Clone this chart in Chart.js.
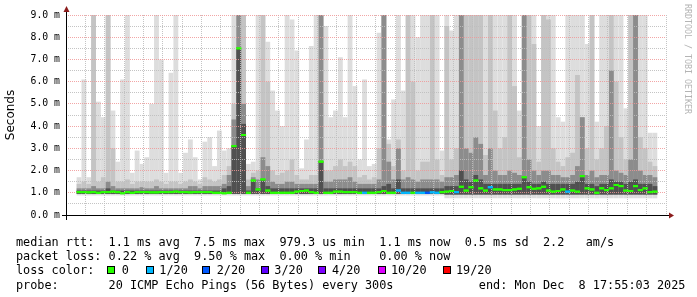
<!DOCTYPE html>
<html>
<head>
<meta charset="utf-8">
<script src="https://cdn.jsdelivr.net/npm/chart.js@4.4.1/dist/chart.umd.min.js"></script>
<style>
    html, body { margin: 0; padding: 0; background: #fff; }
    #wrap { position: relative; width: 697px; height: 297px; overflow: hidden; }
    #chart { position: absolute; left: 0; top: 0; }
    .t { position: absolute; font-family: "DejaVu Sans Mono", monospace; font-size: 11.83px; line-height: 14px; color: #000; white-space: pre; }
    .sw { position: absolute; top: 266px; width: 6px; height: 6px; border: 1px solid #000; }
    #mark { position: absolute; left: 683px; top: 4px; writing-mode: vertical-rl; font-family: "DejaVu Sans Mono", monospace; font-size: 8.3px; line-height: 10px; color: #b4b4b4; white-space: pre; }
</style>
</head>
<body>
<div id="wrap">
    <canvas id="chart" width="697" height="297"></canvas>
    <div id="mark">RRDTOOL / TOBI OETIKER</div>

    <div class="t" style="left:16px;top:234.5px">median rtt:  1.1 ms avg  7.5 ms max  979.3 us min  1.1 ms now  0.5 ms sd  2.2   am/s</div>
    <div class="t" style="left:16px;top:248.8px">packet loss: 0.22 % avg  9.50 % max  0.00 % min    0.00 % now</div>

    <div class="t" style="left:16px;top:263px">loss color:</div>
    <div class="sw" style="left:107px;background:#26ff00"></div>
    <div class="t" style="left:121.7px;top:263px">0</div>
    <div class="sw" style="left:146px;background:#00b8ff"></div>
    <div class="t" style="left:159.3px;top:263px">1/20</div>
    <div class="sw" style="left:202px;background:#0059ff"></div>
    <div class="t" style="left:216.7px;top:263px">2/20</div>
    <div class="sw" style="left:261px;background:#5e00ff"></div>
    <div class="t" style="left:274.3px;top:263px">3/20</div>
    <div class="sw" style="left:318px;background:#7e00ff"></div>
    <div class="t" style="left:332px;top:263px">4/20</div>
    <div class="sw" style="left:378px;background:#dd00ff"></div>
    <div class="t" style="left:391px;top:263px">10/20</div>
    <div class="sw" style="left:443px;background:#ff0000"></div>
    <div class="t" style="left:456px;top:263px">19/20</div>

    <div class="t" style="left:16px;top:277.6px">probe:       20 ICMP Echo Pings (56 Bytes) every 300s            end: Mon Dec  8 17:55:03 2025</div>
</div>
<script>
// x axis: hours after Sun 12:00, one bucket per 15 minutes
const timeLabels = ["Sun 12:00", "Sun 18:00", "Mon 00:00", "Mon 06:00", "Mon 12:00"];
const stepHours = 0.25;

// smoke: tops of each grey layer (ms)
const smokeMax = [
    1.7, 6.1, 1.7, 9, 5.1, 4.4, 9, 4.7, 2.4, 6.1,
    9, 1.9, 2.9, 2.3, 2.6, 5.0, 9, 7.0, 1.9, 6.4,
    9, 1.9, 2.8, 3.4, 2.6, 1.6, 3.3, 3.5, 2.2, 3.8,
    2.9, 3.0, 9, 9, 9, 2.3, 2.4, 9, 9, 7.8,
    5.6, 4.7, 4.0, 9, 8.8, 7.4, 2.1, 3.4, 7.6, 9,
    9, 8.5, 4.4, 4.7, 7.1, 4.4, 9, 5.8, 2.5, 6.1,
    2.2, 2.3, 8.2, 9, 3.4, 5.2, 9, 5.6, 9, 9,
    8.0, 9, 9, 9, 9, 2.9, 9, 8.3, 9, 9,
    9, 9, 9, 9, 9, 9, 9, 9, 9, 9,
    9, 4.7, 9, 9, 9, 4.0, 9, 9, 9, 4.4,
    4.2, 9, 9, 9, 9, 7.7, 9, 4.2, 9, 9,
    9, 9, 9, 4.8, 9, 9, 9, 9, 3.7, 3.7
];
const smokeMid = [
    1.4, 1.5, 1.4, 9, 1.5, 1.7, 9, 3.0, 1.5, 1.5,
    1.6, 1.4, 1.5, 1.5, 1.5, 1.5, 1.6, 1.5, 1.4, 1.5,
    1.5, 1.4, 1.5, 1.6, 1.5, 1.4, 1.7, 1.6, 1.5, 1.6,
    1.8, 2.2, 5.0, 9, 9, 1.6, 1.9, 2.0, 9, 6.0,
    2.0, 1.8, 1.9, 2.0, 2.5, 1.8, 1.6, 1.6, 1.8, 1.8,
    9, 2.0, 2.0, 2.2, 2.5, 2.2, 2.4, 2.2, 1.7, 1.8,
    1.6, 1.7, 3.0, 9, 3.2, 2.2, 3.4, 2.0, 9, 6.0,
    2.0, 2.4, 2.4, 9, 2.5, 1.8, 8.5, 2.5, 3.0, 9,
    9, 9, 9, 9, 2.7, 9, 4.7, 3.0, 3.5, 9,
    5.8, 2.6, 9, 9, 7.7, 2.4, 9, 8.8, 3.0, 2.4,
    2.2, 2.6, 2.8, 6.3, 4.4, 3.0, 9, 2.5, 3.0, 4.0,
    9, 6.0, 3.5, 2.5, 9, 9, 3.5, 3.0, 2.4, 2.2
];
const smokeDark = [
    1.2, 1.2, 1.2, 1.3, 1.2, 1.2, 1.5, 1.3, 1.2, 1.2,
    1.2, 1.2, 1.2, 1.25, 1.2, 1.2, 1.3, 1.2, 1.2, 1.2,
    1.2, 1.2, 1.2, 1.3, 1.3, 1.2, 1.3, 1.3, 1.3, 1.3,
    1.4, 1.8, 4.3, 9, 5.0, 1.3, 1.7, 1.6, 2.6, 2.2,
    1.5, 1.4, 1.4, 1.5, 1.5, 1.4, 1.4, 1.4, 1.4, 1.4,
    9, 1.5, 1.5, 1.6, 1.6, 1.6, 1.7, 1.5, 1.4, 1.4,
    1.4, 1.4, 1.6, 9, 2.4, 1.6, 3.0, 1.6, 1.7, 1.6,
    1.5, 1.6, 1.6, 1.6, 1.6, 1.5, 1.7, 1.7, 1.8, 9,
    3.0, 2.8, 3.5, 3.2, 1.8, 3.0, 2.0, 1.8, 1.8, 2.0,
    1.9, 1.8, 9, 2.5, 2.0, 1.8, 2.0, 2.0, 1.8, 1.8,
    1.7, 1.7, 1.8, 2.2, 4.4, 1.8, 2.0, 1.7, 1.8, 1.8,
    6.5, 2.0, 1.9, 1.8, 2.5, 9, 2.0, 1.8, 1.8, 1.7
];
const smokeCore = [
    1.1, 1.1, 1.1, 1.1, 1.1, 1.1, 1.2, 1.1, 1.1, 1.1,
    1.1, 1.1, 1.1, 1.1, 1.1, 1.1, 1.1, 1.1, 1.1, 1.1,
    1.1, 1.1, 1.1, 1.1, 1.1, 1.1, 1.1, 1.1, 1.1, 1.1,
    1.2, 1.3, 3.1, 7.5, 4.1, 1.1, 1.55, 1.2, 1.6, 1.3,
    1.2, 1.2, 1.2, 1.2, 1.2, 1.2, 1.2, 1.2, 1.2, 1.2,
    2.4, 1.2, 1.2, 1.2, 1.2, 1.2, 1.2, 1.2, 1.2, 1.2,
    1.2, 1.2, 1.2, 1.3, 1.4, 1.2, 1.6, 1.2, 1.2, 1.2,
    1.2, 1.2, 1.2, 1.2, 1.2, 1.2, 1.3, 1.3, 1.3, 2.0,
    1.6, 1.5, 1.8, 1.6, 1.4, 1.4, 1.4, 1.4, 1.4, 1.4,
    1.4, 1.4, 1.7, 1.5, 1.4, 1.4, 1.5, 1.4, 1.4, 1.4,
    1.4, 1.4, 1.4, 1.5, 1.7, 1.4, 1.4, 1.3, 1.4, 1.4,
    1.6, 1.5, 1.5, 1.4, 1.5, 1.6, 1.4, 1.4, 1.4, 1.3
];
// smoke: bottom of the light layer and of the inner layers (ms)
const smokeFloor = [
    0.88, 0.88, 0.88, 0.88, 0.88, 0.88, 0.88, 0.88, 0.88, 0.88,
    0.88, 0.88, 0.88, 0.88, 0.88, 0.88, 0.88, 0.88, 0.88, 0.88,
    0.88, 0.88, 0.88, 0.88, 0.88, 0.88, 0.88, 0.88, 0.88, 0.88,
    0.88, 0.88, 0.88, 0.88, 0.88, 0.88, 0.88, 0.88, 0.88, 0.88,
    0.88, 0.88, 0.88, 0.88, 0.88, 0.88, 0.88, 0.88, 0.88, 0.88,
    0.88, 0.88, 0.88, 0.88, 0.88, 0.88, 0.88, 0.88, 0.88, 0.88,
    0.88, 0.88, 0.88, 0.88, 0.88, 0.88, 0.88, 0.88, 0.88, 0.88,
    0.88, 0.88, 0.88, 0.88, 0.88, 0.88, 0.75, 0.75, 0.75, 0.75,
    0.75, 0.75, 0.75, 0.75, 0.75, 0.75, 0.75, 0.75, 0.75, 0.75,
    0.75, 0.75, 0.75, 0.75, 0.75, 0.75, 0.75, 0.75, 0.75, 0.75,
    0.75, 0.75, 0.75, 0.75, 0.75, 0.75, 0.75, 0.75, 0.75, 0.75,
    0.75, 0.75, 0.75, 0.75, 0.75, 0.75, 0.75, 0.75, 0.75, 0.75
];
const smokeInner = [
    0.95, 0.95, 0.95, 0.95, 0.95, 0.95, 0.95, 0.95, 0.95, 0.95,
    0.95, 0.95, 0.95, 0.95, 0.95, 0.95, 0.95, 0.95, 0.95, 0.95,
    0.95, 0.95, 0.95, 0.95, 0.95, 0.95, 0.95, 0.95, 0.95, 0.95,
    0.95, 0.95, 0.95, 0.95, 0.95, 0.95, 0.95, 0.95, 0.95, 0.95,
    0.95, 0.95, 0.95, 0.95, 0.95, 0.95, 0.95, 0.95, 0.95, 0.95,
    0.95, 0.95, 0.95, 0.95, 0.95, 0.95, 0.95, 0.95, 0.95, 0.95,
    0.95, 0.95, 0.95, 0.95, 0.95, 0.95, 0.95, 0.95, 0.95, 0.95,
    0.95, 0.95, 0.95, 0.95, 0.95, 0.95, 0.92, 0.92, 0.92, 0.92,
    0.92, 0.92, 0.92, 0.92, 0.92, 0.92, 0.92, 0.92, 0.92, 0.92,
    0.92, 0.92, 0.92, 0.92, 0.92, 0.92, 0.92, 0.92, 0.92, 0.92,
    0.92, 0.92, 0.92, 0.92, 0.92, 0.92, 0.92, 0.92, 0.92, 0.92,
    0.92, 0.92, 0.92, 0.92, 0.92, 0.92, 0.92, 0.92, 0.92, 0.92
];
// median rtt (ms) and lost pings out of 20
const medianRtt = [
    1.03, 1.03, 1.02, 1.03, 1.0, 1.03, 1.03, 1.05, 1.03, 0.98,
    1.03, 1.0, 1.03, 1.03, 1.03, 1.02, 1.02, 1.03, 1.03, 1.03,
    1.05, 1.03, 1.03, 1.02, 1.03, 1.03, 1.03, 1.03, 1.0, 1.0,
    0.98, 1.0, 3.1, 7.5, 3.6, 1.0, 1.55, 1.15, 1.6, 1.1,
    1.0, 1.0, 1.0, 1.0, 1.0, 1.05, 1.08, 1.1, 1.03, 1.0,
    2.4, 1.0, 1.0, 1.05, 1.05, 1.03, 1.03, 1.03, 1.0, 1.0,
    1.0, 1.0, 1.03, 1.08, 1.0, 1.0, 1.1, 1.0, 1.0, 1.0,
    1.0, 1.0, 1.0, 1.02, 1.0, 1.03, 1.05, 1.08, 1.03, 1.27,
    1.1, 1.25, 1.55, 1.2, 1.1, 1.25, 1.15, 1.15, 1.12, 1.12,
    1.15, 1.18, 1.7, 1.25, 1.18, 1.2, 1.27, 1.1, 1.05, 1.08,
    1.15, 1.05, 1.1, 1.05, 1.75, 1.2, 1.15, 1.0, 1.2, 1.12,
    1.2, 1.35, 1.3, 1.1, 1.08, 1.3, 1.12, 1.2, 1.03, 1.05
];
const lossPings = [
    0, 0, 0, 0, 0, 0, 0, 0, 0, 0,
    0, 0, 0, 0, 0, 0, 0, 0, 0, 0,
    0, 0, 0, 0, 0, 0, 0, 0, 0, 0,
    0, 0, 0, 0, 0, 0, 0, 0, 0, 0,
    0, 0, 0, 0, 0, 0, 0, 0, 0, 0,
    0, 0, 0, 0, 0, 0, 0, 0, 0, 1,
    0, 0, 0, 0, 0, 0, 1, 1, 1, 0,
    1, 1, 2, 1, 1, 0, 0, 0, 1, 0,
    0, 0, 0, 0, 0, 1, 0, 0, 0, 0,
    0, 0, 0, 0, 0, 0, 0, 0, 0, 0,
    0, 1, 0, 0, 0, 0, 0, 0, 0, 0,
    0, 0, 0, 0, 0, 0, 0, 0, 0, 0
];
const lossSteps = [0, 1, 2, 3, 4, 10, 19];
const lossColors = ["#26ff00", "#00b8ff", "#0059ff", "#5e00ff", "#7e00ff", "#dd00ff", "#ff0000"];

const sampleHours = medianRtt.map((v, i) => (i + 0.5) * stepHours);
const minorGrid = "rgba(190,190,190,0.9)";
const majorGrid = "rgba(240,150,150,0.85)";
const monoFont = "'DejaVu Sans Mono', monospace";

function lossColor(n){
    let color = lossColors[0];
    lossSteps.forEach((step, i) => {
        if (n >= step) color = lossColors[i];
    });
    return color;
};

// one grey band of the smoke
function smokeLayer(bottoms, tops, color, order){
    return {
        type: "bar",
        data: tops.map((top, i) => ({x: sampleHours[i], y: [bottoms[i], top]})),
        backgroundColor: color,
        borderWidth: 0,
        barPercentage: 1,
        categoryPercentage: 1,
        grouped: false,
        inflateAmount: 0,
        order: order,
    };
};

// grid sits over the smoke, so draw the median again on top of it,
// then the axis lines and the little red arrows of rrdtool
const axisArrows = {
    id: "axisArrows",
    afterDraw(chart){
        const {ctx, chartArea} = chart;
        const left = chartArea.left, bottom = chartArea.bottom;
        chart.getDatasetMeta(0).controller.draw();

        ctx.save();
        ctx.strokeStyle = "#000";
        ctx.lineWidth = 1;
        ctx.beginPath();
        ctx.moveTo(left - 4, bottom + 0.5);
        ctx.lineTo(chartArea.right + 6, bottom + 0.5);
        ctx.moveTo(left + 0.5, bottom + 5);
        ctx.lineTo(left + 0.5, chartArea.top - 6);
        ctx.stroke();
        ctx.fillStyle = "#8b1c1c";
        ctx.beginPath();
        ctx.moveTo(chartArea.right + 8, bottom + 0.5);
        ctx.lineTo(chartArea.right + 3, bottom - 2.5);
        ctx.lineTo(chartArea.right + 3, bottom + 3.5);
        ctx.closePath();
        ctx.fill();
        ctx.beginPath();
        ctx.moveTo(left + 0.5, chartArea.top - 9);
        ctx.lineTo(left - 2.5, chartArea.top - 3);
        ctx.lineTo(left + 3.5, chartArea.top - 3);
        ctx.closePath();
        ctx.fill();
        ctx.restore();
    }
};

const chartConfig = {
    type: "bar",
    data: {
        datasets: [
            {
                type: "line",
                data: medianRtt.map((v, i) => ({x: sampleHours[i], y: v})),
                showLine: false,
                pointStyle: "line",
                pointRadius: 2.5,
                pointHoverRadius: 2.5,
                pointBorderWidth: 2,
                pointBorderColor: lossPings.map(lossColor),
                order: 0,
            },
            smokeLayer(smokeInner, smokeCore, "#505050", 1),
            smokeLayer(smokeInner, smokeDark, "#8c8c8c", 2),
            smokeLayer(smokeInner, smokeMid, "#c4c4c4", 3),
            smokeLayer(smokeFloor, smokeMax, "#dddddd", 4),
        ]
    },
    options: {
        responsive: false,
        devicePixelRatio: 1,
        animation: false,
        events: [],
        layout: {
            padding: {top: 15, right: 31, left: 0, bottom: 0}
        },
        scales: {
            x: {
                type: "linear",
                min: -0.05,
                max: 29.95,
                afterFit: (scale) => { scale.height = 82; },
                ticks: {
                    stepSize: 1,
                    autoSkip: false,
                    includeBounds: false,
                    maxRotation: 0,
                    padding: 3,
                    color: "#000",
                    font: {family: monoFont, size: 9.8},
                    callback: (value) => (value % 6 === 0 && timeLabels[value / 6]) ? timeLabels[value / 6] : "",
                },
                grid: {
                    z: 1,
                    drawTicks: false,
                    color: (context) => (context.tick && context.tick.value % 3 === 0) ? majorGrid : minorGrid,
                },
                border: {
                    display: false,
                    dash: [1, 1],
                }
            },
            y: {
                min: 0,
                max: 9,
                afterFit: (scale) => { scale.width = 66; },
                ticks: {
                    stepSize: 0.5,
                    autoSkip: false,
                    padding: 6,
                    color: "#000",
                    font: {family: monoFont, size: 9.8},
                    callback: (value) => Number.isInteger(value) ? value.toFixed(1) + " m" : "",
                },
                grid: {
                    z: 1,
                    drawTicks: false,
                    color: (context) => (context.tick && Number.isInteger(context.tick.value)) ? majorGrid : minorGrid,
                },
                border: {
                    display: false,
                    dash: [1, 1],
                },
                title: {
                    display: true,
                    text: "Seconds",
                    color: "#000",
                    padding: {top: 4, bottom: 0},
                    font: {family: "'DejaVu Sans', sans-serif", size: 12, weight: "normal"},
                }
            }
        },
        plugins: {
            legend: {display: false},
            tooltip: {enabled: false},
        }
    },
    plugins: [axisArrows]
};

const smokeChart = new Chart(document.getElementById("chart"), chartConfig);
</script>
</body>
</html>
